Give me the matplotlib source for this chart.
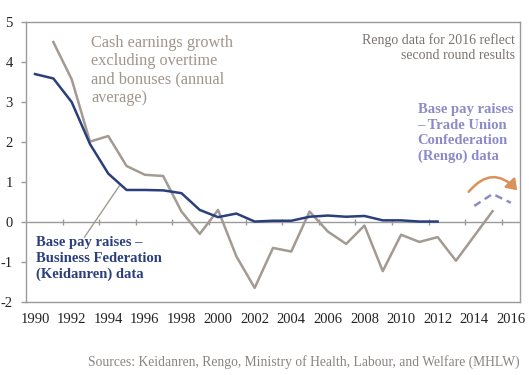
import matplotlib
matplotlib.use("Agg")
import matplotlib.pyplot as plt
from matplotlib.patches import FancyArrowPatch

# Base pay raises - Keidanren (1990-2012)
keidanren_years = list(range(1990, 2013))
keidanren = [3.70, 3.59, 3.00, 1.95, 1.21, 0.80, 0.80, 0.79, 0.72, 0.30, 0.12, 0.21,
             0.01, 0.03, 0.03, 0.13, 0.16, 0.13, 0.15, 0.04, 0.04, 0.01, 0.01]

# Cash earnings growth excl. overtime and bonuses (1991-2015)
cash_years = list(range(1991, 2016))
cash = [4.50, 3.57, 2.01, 2.15, 1.40, 1.18, 1.15, 0.26, -0.30, 0.30, -0.86, -1.65,
        -0.65, -0.74, 0.26, -0.24, -0.55, -0.09, -1.23, -0.32, -0.50, -0.38, -0.97,
        -0.35, 0.27]

# Base pay raises - Rengo (2014-2016)
rengo_years = [2014, 2015, 2016]
rengo = [0.40, 0.70, 0.48]

year_ticks = list(range(1990, 2017, 2))
y_ticks = list(range(-2, 6))

navy = "#2b3f7c"
taupe = "#a39a92"
lavender = "#8b8bc9"
orange = "#d9925a"
frame = "#9a9a9a"

plt.rcParams['font.family'] = ['Liberation Serif', 'DejaVu Serif']

fig = plt.figure(figsize=(5.29, 3.75), dpi=100)
ax = fig.add_axes([0.049, 0.195, 0.934, 0.746])

ax.axhline(0, color=frame, lw=1.0, zorder=1)
ax.plot([y + 0.5 for y in range(1991, 2016, 2)], [0] * 13, ls="none", marker="|",
        ms=5, mew=1.0, color=frame, zorder=1)

ax.plot(cash_years, cash, color=taupe, lw=1.8, zorder=2)
ax.plot(keidanren_years, keidanren, color=navy, lw=1.8, zorder=3)
ax.plot(rengo_years, rengo, color=lavender, lw=1.8, ls=(0, (3, 2)), zorder=3)

ax.set_xlim(1989.5, 2016.5)
ax.set_ylim(-2, 5)
ax.set_xticks(year_ticks)
ax.set_xticklabels([str(y) for y in year_ticks], fontsize=10.5, color="#222222")
ax.set_yticks(y_ticks)
ax.set_yticklabels([str(v) for v in y_ticks], fontsize=10.5, color="#222222")
ax.tick_params(axis="x", length=0, pad=8)
ax.tick_params(axis="y", length=3.5, width=1.0, color=frame, pad=6)
for s in ax.spines.values():
    s.set_color(frame)
    s.set_linewidth(1.0)

# orange curved arrow over the Rengo segment
arr = FancyArrowPatch((2013.6, 0.7), (2016.45, 0.74), connectionstyle="arc3,rad=-0.6",
                      arrowstyle="-|>,head_length=5,head_width=3.5", color=orange,
                      lw=1.8, mutation_scale=1.2)
ax.add_patch(arr)

# leader line to the Keidanren label
ax.plot([1992.7, 1994.6], [-0.38, 0.9], color=taupe, lw=1.0)

ax.text(1993.05, 4.68, "Cash earnings growth\nexcluding overtime\nand bonuses (annual\naverage)",
        color="#a0958b", fontsize=11.7, va="top", ha="left", linespacing=1.2)
ax.text(2016.2, 4.72, "Rengo data for 2016 reflect\nsecond round results",
        color="#7a7470", fontsize=10, va="top", ha="right", linespacing=1.15)
ax.text(2010.9, 2.97, "Base pay raises\n\u2013 Trade Union\nConfederation\n(Rengo) data",
        color=lavender, fontsize=10.5, fontweight="bold", va="top", ha="left", linespacing=1.25)
ax.text(1990.05, -0.36, "Base pay raises \u2013\nBusiness Federation\n(Keidanren) data",
        color=navy, fontsize=10.5, fontweight="bold", va="top", ha="left", linespacing=1.25)

fig.text(0.983, 0.035, "Sources: Keidanren, Rengo, Ministry of Health, Labour, and Welfare (MHLW)",
         color="#8a8480", fontsize=9.8, ha="right", va="center")

fig.savefig("out.png", dpi=100)
